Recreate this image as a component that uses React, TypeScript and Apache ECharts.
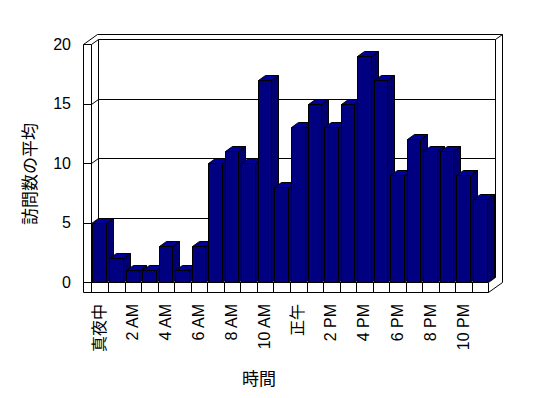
import { useEffect, useRef } from 'react';
import * as echarts from 'echarts';

const hourLabels = [
  '真夜中', '1 AM', '2 AM', '3 AM', '4 AM', '5 AM', '6 AM', '7 AM', '8 AM', '9 AM', '10 AM', '11 AM',
  '正午', '1 PM', '2 PM', '3 PM', '4 PM', '5 PM', '6 PM', '7 PM', '8 PM', '9 PM', '10 PM', '11 PM',
];
const avgVisits = [5, 2, 1, 1, 3, 1, 3, 10, 11, 10, 17, 8, 13, 15, 13, 15, 19, 17, 9, 12, 11, 11, 9, 7];
const yMin = 0;
const yMax = 20;
const yStep = 5;
const yAxisTitle = '訪問数の平均';
const xAxisTitle = '時間';

const DX = 7;
const DY = -5;
const WALL = 8;
const FLOOR = 10;
const FONT = "'Liberation Sans', 'Noto Sans CJK JP', sans-serif";
const CJK = "'Noto Sans CJK JP', sans-serif";

const snap = (v: number) => Math.round(v) + 0.5;
const stroke = { stroke: '#000', lineWidth: 1 };
const ln = (x1: number, y1: number, x2: number, y2: number) => ({
  type: 'line',
  shape: { x1, y1, x2, y2 },
  style: { ...stroke, fill: null },
});

export default function App() {
  const ref = useRef<HTMLDivElement>(null);
  useEffect(() => {
    const chart = echarts.init(ref.current!, null, { renderer: 'svg' });
    const n = hourLabels.length;

    const frameRender = (_params: any, api: any) => {
      const w = api.size([1, 0])[0];
      const p0 = api.coord([0, yMin]);
      const xL = snap(p0[0] - w / 2);
      const xR = snap(api.coord([n - 1, yMin])[0] + w / 2);
      const yB = snap(p0[1]);
      const yT = snap(api.coord([0, yMax])[1]);
      const ch: any[] = [];
      ch.push({
        type: 'polygon',
        shape: {
          points: [
            [xL - WALL, yB + FLOOR],
            [xL - WALL, yT],
            [xL - WALL + 2 * DX, yT + 2 * DY],
            [xR + 2 * DX, yT + 2 * DY],
            [xR + 2 * DX, yB + FLOOR + 2 * DY],
            [xR, yB + FLOOR],
          ],
        },
        style: { fill: '#fff', ...stroke },
      });
      // back wall front face
      ch.push(ln(xL + DX, yT + DY, xR + DX, yT + DY));
      ch.push(ln(xL + DX, yT + DY, xL + DX, yB + DY));
      ch.push(ln(xR + DX, yT + DY, xR + DX, yB + DY));
      ch.push(ln(xL + DX, yB + DY, xR + DX, yB + DY));
      ch.push(ln(xR + DX, yT + DY, xR + 2 * DX, yT + 2 * DY));
      // left wall
      ch.push(ln(xL, yT, xL, yB + FLOOR));
      ch.push(ln(xL - WALL, yT, xL, yT));
      ch.push(ln(xL, yT, xL + DX, yT + DY));
      // floor
      ch.push(ln(xL - WALL, yB, xR, yB));
      ch.push(ln(xR, yB, xR, yB + FLOOR));
      ch.push(ln(xR, yB, xR + DX, yB + DY));
      ch.push(ln(xL, yB, xL + DX, yB + DY));
      for (let i = 1; i < n; i++) {
        const x = snap(xL + i * w);
        ch.push(ln(x, yB, x, yB + FLOOR));
      }
      // gridlines
      for (let v = yMin + yStep; v < yMax; v += yStep) {
        const y = snap(api.coord([0, v])[1]);
        ch.push(ln(xL - WALL, y, xL, y));
        ch.push(ln(xL, y, xL + DX, y + DY));
        ch.push(ln(xL + DX, y + DY, xR + DX, y + DY));
      }
      return { type: 'group', children: ch };
    };

    const barRender = (_params: any, api: any) => {
      const i = api.value(0);
      const v = api.value(1);
      const top = api.coord([i, v]);
      const base = api.coord([i, yMin]);
      const bw = api.size([1, 0])[0] * 0.82;
      const x1 = snap(top[0] - bw / 2);
      const x2 = snap(top[0] + bw / 2);
      const yt = snap(top[1]);
      const yb = snap(base[1]);
      return {
        type: 'group',
        children: [
          {
            type: 'polygon',
            shape: { points: [[x2, yt], [x2 + DX, yt + DY], [x2 + DX, yb + DY], [x2, yb]] },
            style: { fill: '#000070', ...stroke },
          },
          {
            type: 'polygon',
            shape: { points: [[x1, yt], [x1 + DX, yt + DY], [x2 + DX, yt + DY], [x2, yt]] },
            style: { fill: '#000098', ...stroke },
          },
          {
            type: 'rect',
            shape: { x: x1, y: yt, width: x2 - x1, height: yb - yt },
            style: { fill: '#000080', ...stroke },
          },
        ],
      };
    };

    chart.setOption({
      animation: false,
      backgroundColor: '#fff',
      grid: { left: 91, right: 60, top: 44, bottom: 116, containLabel: false },
      xAxis: {
        type: 'category',
        data: hourLabels,
        axisLine: { show: false },
        axisTick: { show: false },
        splitLine: { show: false },
        axisLabel: {
          interval: 1,
          rotate: 90,
          margin: 22,
          fontSize: 16,
          color: '#000',
          fontFamily: FONT,
        },
      },
      yAxis: {
        type: 'value',
        min: yMin,
        max: yMax,
        interval: yStep,
        axisLine: { show: false },
        axisTick: { show: false },
        splitLine: { show: false },
        axisLabel: { margin: 20, fontSize: 16, color: '#000', fontFamily: FONT },
      },
      series: [
        {
          type: 'custom',
          silent: true,
          z: 1,
          renderItem: frameRender,
          data: [[0, yMin]],
        },
        {
          type: 'custom',
          silent: true,
          z: 2,
          renderItem: barRender,
          data: avgVisits.map((v, i) => [i, v]),
        },
      ],
      graphic: [
        {
          type: 'text',
          x: 28,
          y: 174,
          rotation: Math.PI / 2,
          style: {
            text: yAxisTitle,
            fontSize: 17,
            fontFamily: CJK,
            fill: '#000',
            align: 'center',
            verticalAlign: 'middle',
          },
        },
        {
          type: 'text',
          x: 259,
          y: 377,
          style: {
            text: xAxisTitle,
            fontSize: 17,
            fontFamily: CJK,
            fill: '#000',
            align: 'center',
            verticalAlign: 'middle',
          },
        },
      ],
    });
    return () => chart.dispose();
  }, []);
  return (
    <div
      ref={ref}
      style={{ position: 'fixed', left: 0, top: 0, width: 548, height: 398, background: '#fff' }}
    />
  );
}
